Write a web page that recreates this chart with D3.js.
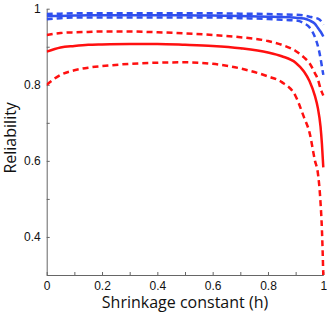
<!DOCTYPE html>
<html>
<head>
<meta charset="utf-8">
<script src="https://cdn.jsdelivr.net/npm/d3@7"></script>
<style>
  body { margin: 0; background: #fff; }
  svg { display: block; }
</style>
</head>
<body>
<div id="chart"></div>
<script>
// shrinkage constant values (x)
const hValues = [0, 0.05, 0.1, 0.15, 0.2, 0.3, 0.4, 0.5, 0.6, 0.7, 0.8, 0.85, 0.9, 0.93, 0.95, 0.97, 0.98, 0.99, 0.995, 1];

// blue: mean and bounds
const blueMid   = [0.980, 0.981, 0.982, 0.983, 0.983, 0.983, 0.983, 0.983, 0.982, 0.981, 0.979, 0.978, 0.976, 0.974, 0.969, 0.960, 0.950, 0.940, 0.934, 0.927];
const blueUpper = [0.986, 0.987, 0.988, 0.988, 0.988, 0.988, 0.988, 0.988, 0.988, 0.987, 0.986, 0.985, 0.984, 0.982, 0.979, 0.976, 0.974, 0.969, 0.964, 0.957];
const blueLower = [0.972, 0.975, 0.977, 0.977, 0.977, 0.977, 0.977, 0.977, 0.977, 0.975, 0.973, 0.971, 0.969, 0.962, 0.951, 0.925, 0.903, 0.870, 0.848, 0.826];

// red: mean and bounds
const redMid   = [0.887, 0.898, 0.902, 0.905, 0.906, 0.907, 0.907, 0.905, 0.902, 0.896, 0.885, 0.875, 0.858, 0.835, 0.810, 0.770, 0.740, 0.690, 0.645, 0.583];
const redUpper = [0.931, 0.936, 0.938, 0.939, 0.940, 0.940, 0.938, 0.935, 0.931, 0.925, 0.915, 0.905, 0.889, 0.872, 0.857, 0.830, 0.815, 0.790, 0.780, 0.772];
const redLower = [0.800, 0.826, 0.838, 0.845, 0.849, 0.855, 0.858, 0.859, 0.855, 0.843, 0.822, 0.807, 0.770, 0.715, 0.675, 0.600, 0.570, 0.490, 0.420, 0.300];

const xTicks = d3.range(0, 11).map(i => i / 10);
const yTicks = d3.range(3, 11).map(i => i / 10);

const width = 327, height = 315;
const marginLeft = 46.7, marginRight = 3.7, marginTop = 8.7, marginBottom = 40;

const x = d3.scaleLinear([0, 1], [marginLeft, width - marginRight]);
const y = d3.scaleLinear([0.3, 1], [height - marginBottom, marginTop]);

const svg = d3.select('#chart').append('svg')
  .attr('width', width)
  .attr('height', height)
  .attr('font-family', "'Open Sans', sans-serif");

svg.append('defs').append('clipPath').attr('id', 'clip')
  .append('rect')
  .attr('x', marginLeft).attr('y', marginTop - 5)
  .attr('width', width - marginLeft).attr('height', height - marginBottom - marginTop + 5);

const fmt = d => {
  const r = Math.round(d * 10);
  if (r % 2) return '';
  return r === 10 ? '1' : r === 0 ? '0' : d3.format('.1f')(d);
};

const axisColor = '#666';

// x axis
svg.append('g')
  .attr('transform', `translate(0,${height - marginBottom})`)
  .call(d3.axisBottom(x).tickValues(xTicks).tickFormat(fmt).tickSizeInner(-3).tickSizeOuter(0).tickPadding(6))
  .call(g => g.select('.domain').attr('stroke', axisColor))
  .call(g => g.selectAll('.tick line').attr('stroke', axisColor))
  .call(g => g.selectAll('.tick text').attr('fill', '#111').attr('font-size', 12));

// y axis
svg.append('g')
  .attr('transform', `translate(${marginLeft},0)`)
  .call(d3.axisLeft(y).tickValues(yTicks).tickFormat(fmt).tickSizeInner(-3).tickSizeOuter(0).tickPadding(6))
  .call(g => g.select('.domain').attr('stroke', axisColor))
  .call(g => g.selectAll('.tick line').attr('stroke', axisColor))
  .call(g => g.selectAll('.tick text').attr('fill', '#111').attr('font-size', 12));

// axis labels
svg.append('text')
  .attr('x', (marginLeft + width - marginRight) / 2)
  .attr('y', 308)
  .attr('text-anchor', 'middle')
  .attr('font-size', 16)
  .attr('fill', '#111')
  .text('Shrinkage constant (h)');

svg.append('text')
  .attr('transform', `translate(16,${(marginTop + height - marginBottom) / 2 - 4}) rotate(-90)`)
  .attr('text-anchor', 'middle')
  .attr('font-size', 16)
  .attr('fill', '#111')
  .text('Reliability');

const line = d3.line()
  .curve(d3.curveMonotoneX)
  .x((d, i) => x(hValues[i]))
  .y(d => y(d));

const series = [
  { values: redLower, color: '#ff1010', dash: '6,4' },
  { values: redUpper, color: '#ff1010', dash: '6,4' },
  { values: redMid, color: '#ff1010', dash: null },
  { values: blueLower, color: '#3050ee', dash: '6,4' },
  { values: blueUpper, color: '#3050ee', dash: '6,4' },
  { values: blueMid, color: '#3050ee', dash: null }
];

svg.append('g')
  .attr('clip-path', 'url(#clip)')
  .selectAll('path')
  .data(series)
  .join('path')
  .attr('fill', 'none')
  .attr('stroke', d => d.color)
  .attr('stroke-width', 2.5)
  .attr('stroke-dasharray', d => d.dash)
  .attr('d', d => line(d.values));
</script>
</body>
</html>
